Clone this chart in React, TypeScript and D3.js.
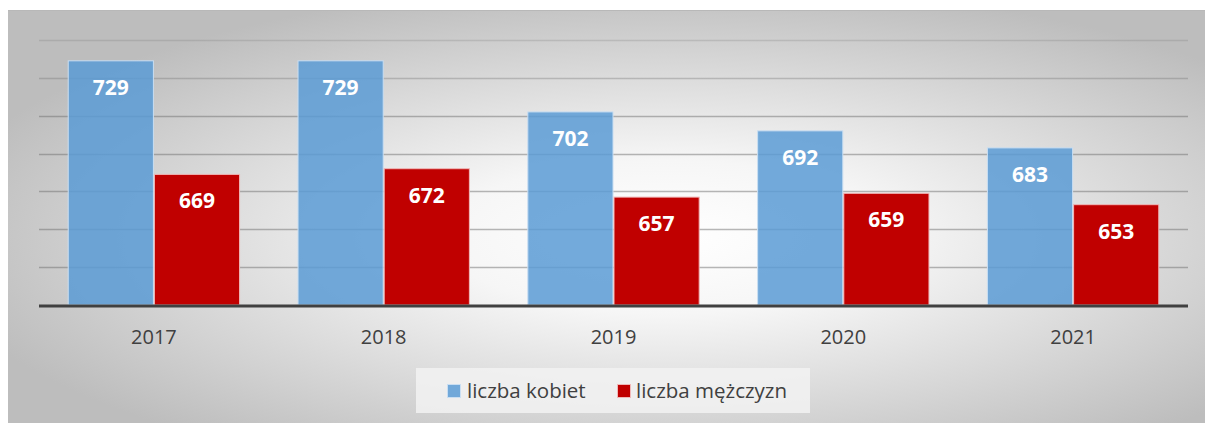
import React from 'react';
import * as d3 from 'd3';

const years = ['2017', '2018', '2019', '2020', '2021'];
const kobiety = [729, 729, 702, 692, 683];
const mezczyzni = [669, 672, 657, 659, 653];
const seriesNames = ['liczba kobiet', 'liczba mężczyzn'];
const gridTicks = [600, 620, 640, 660, 680, 700, 720, 740];

const W = 1205;
const H = 423;
const left = 39;
const right = 1188;
const top = 40;
const base = 305;

const font = '"Open Sans", "DejaVu Sans", sans-serif';

const App: React.FC = () => {
  const x0 = d3.scaleBand<string>().domain(years).range([left, right]).paddingInner(0.25).paddingOuter(0.125);
  const x1 = d3.scaleBand<string>().domain(['k', 'm']).range([0, x0.bandwidth()]);
  const y = d3.scaleLinear().domain([600, 740]).range([base, top]);

  const bars = years.flatMap((yr, i) => [
    { yr, key: 'k', v: kobiety[i], fill: '#5b9bd5', stroke: '#c9def2', op: 0.85 },
    { yr, key: 'm', v: mezczyzni[i], fill: '#c00000', stroke: '#f0b8b8', op: 1 },
  ]);

  return (
    <svg width={W} height={H} style={{ position: 'absolute', left: 0, top: 0 }}>
      <defs>
        <radialGradient id="bg" cx="0.55" cy="0.55" r="0.62" gradientUnits="objectBoundingBox">
          <stop offset="0" stopColor="#ffffff" />
          <stop offset="0.3" stopColor="#f6f6f6" />
          <stop offset="1" stopColor="#bdbdbd" />
        </radialGradient>
      </defs>
      <rect x={0} y={0} width={W} height={H} fill="#ffffff" />
      <rect x={8} y={10} width={W - 8} height={H - 10} fill="url(#bg)" />
      <line x1={8} x2={W} y1={10.5} y2={10.5} stroke="#b8b8b8" strokeWidth={1} />

      {gridTicks.slice(1).map((t) => (
        <line key={t} x1={left} x2={right} y1={Math.round(y(t)) + 0.5} y2={Math.round(y(t)) + 0.5}
          stroke="#6f6f6f" strokeOpacity={t === 740 ? 0.22 : t === 720 ? 0.35 : 0.5} strokeWidth={1.5} />
      ))}

      {bars.map((b) => {
        const bx = (x0(b.yr) ?? 0) + (x1(b.key) ?? 0);
        const bw = x1.bandwidth();
        const by = y(b.v);
        return (
          <g key={b.yr + b.key}>
            <rect x={bx + 0.5} y={by} width={bw - 1} height={base - by}
              fill={b.fill} fillOpacity={b.op} stroke={b.stroke} strokeWidth={1} />
            <text x={bx + bw / 2} y={by + 34} textAnchor="middle" fill="#ffffff"
              fontFamily={font} fontWeight={700} fontSize={21}>{b.v}</text>
          </g>
        );
      })}

      <line x1={left} x2={right} y1={base + 1} y2={base + 1} stroke="#404040" strokeWidth={3} />

      {years.map((yr) => (
        <text key={yr} x={(x0(yr) ?? 0) + x0.bandwidth() / 2} y={344} textAnchor="middle"
          fill="#404040" fontFamily={font} fontSize={20}>{yr}</text>
      ))}

      <rect x={416} y={368} width={394} height={45} fill="#f2f2f2" fillOpacity={0.85} />
      <rect x={447.5} y={384.5} width={13} height={13} fill="#5b9bd5" fillOpacity={0.85} stroke="#c9def2" />
      <text x={467} y={398} fill="#404040" fontFamily={font} fontSize={20.5}>{seriesNames[0]}</text>
      <rect x={617.5} y={384.5} width={13} height={13} fill="#c00000" stroke="#f0b8b8" />
      <text x={636} y={398} fill="#404040" fontFamily={font} fontSize={20.5}>{seriesNames[1]}</text>
    </svg>
  );
};

export default App;
